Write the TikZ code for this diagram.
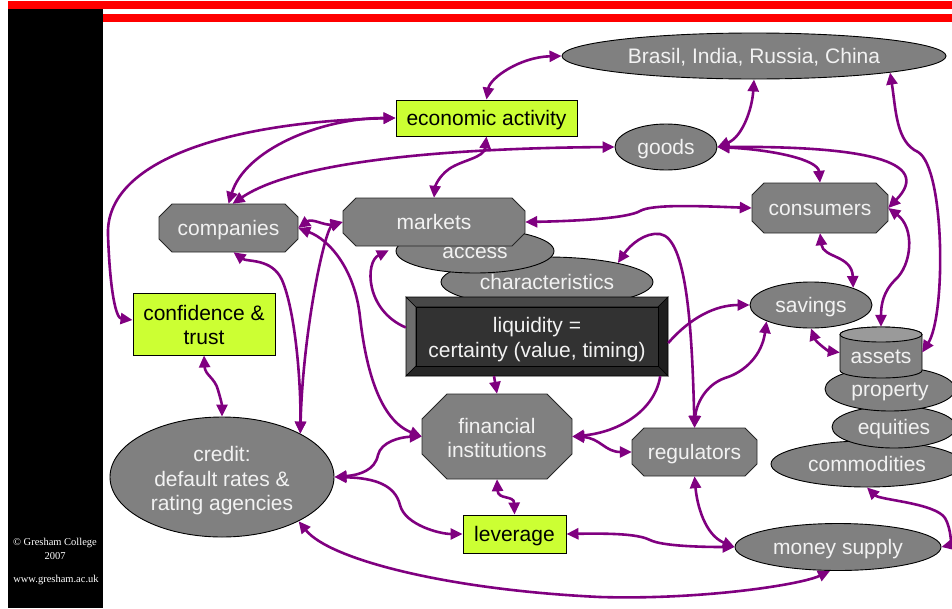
\documentclass[tikz,border=0pt]{standalone}
\usepackage{fontspec}
\setmainfont{Liberation Sans}
\newfontfamily\footfont{Liberation Serif}
\usetikzlibrary{shapes.geometric,arrows.meta}
\definecolor{purp}{HTML}{800080}
\definecolor{nodegray}{HTML}{808080}
\definecolor{limec}{HTML}{CCFF33}
\definecolor{txtc}{HTML}{F2F2F2}
\definecolor{cyltop}{HTML}{9A9A9A}
\newcommand\pstrut{\rule[-4.45pt]{0pt}{23.45pt}}
\tikzset{
 lbl/.style={inner sep=0pt, align=center, text=txtc, font=\fontsize{21}{24.5}\selectfont,
   execute at begin node=\pstrut, execute at end node=\pstrut},
 ell/.style={ellipse, draw=black, fill=nodegray, line width=0.9pt, lbl},
 grn/.style={rectangle, draw=black, fill=limec, line width=0.9pt, lbl, text=black},
 octfill/.style={fill=nodegray, draw=black!85, line width=0.9pt},
 bev/.style={draw=black, line width=0.6pt},
 con/.style={draw=purp, line width=2.6pt, {Triangle[length=12pt,width=11pt]}-{Triangle[length=12pt,width=11pt]}},
 con1/.style={draw=purp, line width=2.6pt, -{Triangle[length=12pt,width=11pt]}},
 foot/.style={text=white, inner sep=0pt, font=\footfont\fontsize{10.5}{12}\selectfont},
}
\newcommand\myoct[8]{%
  \filldraw[octfill] ({#2-#4+#6},{#3-#5}) -- ({#2+#4-#6},{#3-#5}) -- ({#2+#4},{#3-#5+#6}) -- ({#2+#4},{#3+#5-#6}) -- ({#2+#4-#6},{#3+#5}) -- ({#2-#4+#6},{#3+#5}) -- ({#2-#4},{#3+#5-#6}) -- ({#2-#4},{#3-#5+#6}) -- cycle;
  \node[lbl, #8, minimum width={2*#4}, minimum height={2*#5}] (#1) at (#2,#3) {#7};
}
\begin{document}
\begin{tikzpicture}[x=1pt,y=-1pt]
\useasboundingbox (0,0) rectangle (952,608);
\fill[white] (0,0) rectangle (952,608);
% frame
\fill[red] (8,1) rectangle (952,9);
\fill[red] (103,13.5) rectangle (952,22);
\fill[black] (8,9) rectangle (103,608);
\node[foot] (fc1) at (55,543) {© Gresham College};
\node[foot] (fc2) at (55,556) {2007};
\node[foot] (fc3) at (56,580) {www.gresham.ac.uk};

% nodes
\node[ell, minimum width=384, minimum height=46] (brics) at (754,56) {Brasil, India, Russia, China};
\node[grn, minimum width=181, minimum height=36] (econ) at (486.5,118) {economic activity};
\node[ell, minimum width=102, minimum height=46] (goods) at (666,147) {goods};
\node[ell, minimum width=212, minimum height=50] (characteristics) at (547,282) {characteristics};
\node[ell, minimum width=158, minimum height=44] (access) at (475,251) {access};
\myoct{markets}{434}{222}{91}{24}{13}{markets}{}

% liquidity bevelled box
\filldraw[bev, fill={rgb,255:red,110;green,110;blue,110}] (406,297) -- (416,307) -- (416,366) -- (406,376) -- cycle;
\filldraw[bev, fill={rgb,255:red,72;green,72;blue,72}] (406,297) -- (668,297) -- (658,307) -- (416,307) -- cycle;
\filldraw[bev, fill={rgb,255:red,30;green,30;blue,30}] (668,297) -- (668,376) -- (658,366) -- (658,307) -- cycle;
\filldraw[bev, fill={rgb,255:red,38;green,38;blue,38}] (406,376) -- (668,376) -- (658,366) -- (416,366) -- cycle;
\filldraw[bev, fill={rgb,255:red,50;green,50;blue,50}] (416,307) rectangle (658,366);
\node[inner sep=0pt, minimum width=262, minimum height=79] (liquidity) at (537,336.5) {};
\node[lbl] (liquiditytext) at (537,339.5) {liquidity =\\certainty (value, timing)};

\myoct{companies}{228.5}{228}{69.5}{24}{13}{companies}{}
\myoct{consumers}{820}{208}{68}{25}{12}{consumers}{}
\node[grn, minimum width=142, minimum height=62] (confidence) at (204,324) {};
\node[lbl, text=black] (confidencetext) at (204,327) {confidence \&\\trust};
\node[ell, minimum width=122, minimum height=46] (savings) at (811,305) {savings};
\node[ell, minimum width=192, minimum height=46] (commodities) at (867,464) {commodities};
\node[ell, minimum width=124, minimum height=42] (equities) at (894,427) {equities};
\node[ell, minimum width=130, minimum height=44] (property) at (890,389) {property};
% assets cylinder
\filldraw[fill=nodegray, draw=black, line width=0.9pt] (840,334.5) -- (840,370.5) arc[start angle=180, end angle=360, x radius=41pt, y radius=7.5pt] -- (922,334.5) arc[start angle=0, end angle=180, x radius=41pt, y radius=7.5pt] -- cycle;
\filldraw[fill=cyltop, draw=black, line width=0.9pt] (881,334.5) ellipse[x radius=41pt, y radius=7.5pt];
\node[inner sep=0pt, minimum width=82, minimum height=51] (assets) at (881,352.5) {};
\node[lbl] (assetstext) at (881,356) {assets};

\node[ell, minimum width=206, minimum height=47] (money) at (838,547) {money supply};
\myoct{regulators}{694.5}{452}{62.5}{24}{12}{regulators}{}
\myoct{fininst}{497}{436.5}{75}{42.5}{25}{}{}
\node[lbl] (fininsttext) at (497,440) {financial\\institutions};
\node[grn, minimum width=103, minimum height=38] (leverage) at (514.5,534) {leverage};
\node[ell, minimum width=224, minimum height=120] (credit) at (222,477) {};
\node[lbl] (credittext) at (222,481) {credit:\\default rates \&\\rating agencies};

% connectors
\draw[con] (econ.north) .. controls (490,78) and (520,57) .. (brics.west);
\draw[con] (brics.south) .. controls (752,110) and (742,137) .. (goods.east);
\draw[con] (brics.south east) .. controls (896,110) and (896,142) .. (918,152) .. controls (945,168) and (946,315) .. (assets.east);
\draw[con] (econ.west) .. controls (320,118) and (245,150) .. (companies.north);
\draw[con] (econ.west) .. controls (230,122) and (105,160) .. (108,235) .. controls (110,292) and (116,318) .. ([yshift=4pt]confidence.west);
\draw[con] (goods.west) .. controls (470,148) and (300,158) .. ([xshift=4pt]companies.north);
\draw[con] (econ.south) .. controls (484,158) and (462,160) .. (449,169) .. controls (438,177) and (435,187) .. (markets.north);
\draw[con] (goods.east) .. controls (775,150) and (818,160) .. (consumers.north);
\draw[con] (goods.east) .. controls (860,146) and (935,160) .. (consumers.east);
\draw[con] (consumers.west) .. controls (700,206) and (652,204) .. (640,211) .. controls (628,218) and (580,221) .. (markets.east);
\draw[con] (consumers.south) .. controls (823,258) and (852,255) .. (savings.22);
\draw[con] (consumers.east) .. controls (915,228) and (912,265) .. (895,280) .. controls (883,292) and (881,305) .. (assets.north);
\draw[con] (savings.south) .. controls (816,342) and (828,351) .. (assets.west);
\draw[con1] ([yshift=-6.5pt]liquidity.east) .. controls (690,318) and (715,305) .. (savings.west);
\draw[con1] ([xshift=-8pt]liquidity.south east) .. controls (655,410) and (620,432) .. (fininst.east);
\draw[con1] ([xshift=-43pt]liquidity.south) -- (fininst.north);
\draw[con1] ([yshift=9pt]liquidity.west) .. controls (365,310) and (365,262) .. ([xshift=46pt,yshift=-4pt]markets.south west);
\draw[con] (regulators.north) .. controls (692,330) and (687,238) .. (660,234) .. controls (645,232) and (630,245) .. (characteristics.15);
\draw[con] (savings.-160) .. controls (762,355) and (745,372) .. (725,378) .. controls (705,385) and (696,405) .. (regulators.north);
\draw[con] (fininst.east) .. controls (600,438) and (605,452) .. (regulators.west);
\draw[con] (regulators.south) .. controls (697,505) and (705,535) .. (money.west);
\draw[con] (leverage.east) .. controls (620,533) and (640,535) .. (650,540) .. controls (662,546) and (700,547) .. (money.west);
\draw[con] (fininst.south) .. controls (498,500) and (514,495) .. (leverage.north);
\draw[con] (credit.east) .. controls (360,475) and (375,470) .. (378,455) .. controls (381,442) and (400,437) .. (fininst.west);
\draw[con] (credit.east) .. controls (375,478) and (395,485) .. (400,505) .. controls (405,525) and (440,534) .. (leverage.west);
\draw[con] (credit.-30) .. controls (330,560) and (450,590) .. (600,597) .. controls (700,600) and (800,585) .. ([xshift=-8pt]money.south);
\draw[con] (commodities.south) .. controls (880,500) and (935,503) .. (945,518) .. controls (952,530) and (950,545) .. (money.east);
\draw[con] (confidence.south) .. controls (205,375) and (215,378) .. (218,390) .. controls (221,400) and (222,405) .. (credit.north);
\draw[con] ([xshift=5pt]companies.south) .. controls (247,262) and (272,258) .. (282,280) .. controls (295,310) and (301,380) .. (credit.29);
\draw[con] (markets.west) .. controls (325,228) and (303,330) .. (credit.29);
\draw[con] (companies.east) .. controls (312,218) and (325,226) .. (markets.west);
\draw[con] (companies.east) .. controls (330,240) and (355,270) .. (360,317) .. controls (366,370) and (380,420) .. (fininst.west);
\end{tikzpicture}
\end{document}
